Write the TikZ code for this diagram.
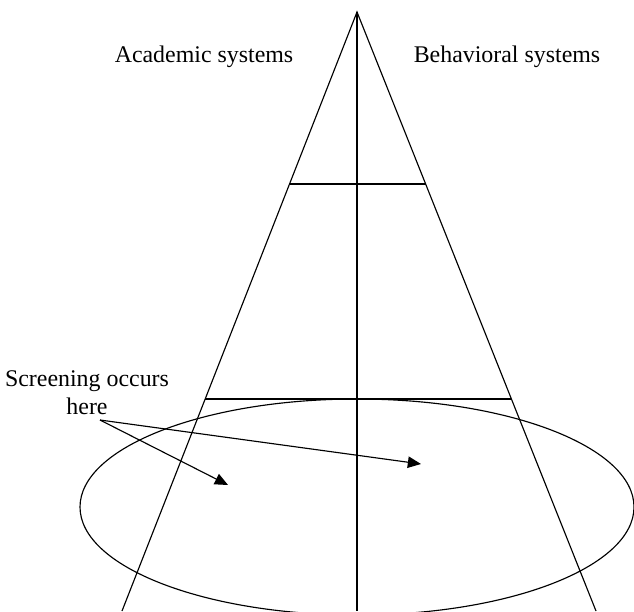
\documentclass[tikz,border=0pt]{standalone}
\usepackage{fontspec}
\setmainfont{Liberation Serif}
\usetikzlibrary{arrows.meta,calc}
\begin{document}
\begin{tikzpicture}[x = 0.02cm, y = -0.02cm,
    edge/.style = {line width=0.65pt},
    pointer/.style = {line width=0.65pt, -{Triangle[length=7.5pt, width=6.5pt]}},
    caption/.style = {font=\fontsize{13.6}{16}\selectfont, align=center, inner sep=0pt}]
  \useasboundingbox (0, 0) rectangle (634, 611);
  \clip (0, 0) rectangle (634, 611);
  % cone
  \coordinate (apex) at (357, 12);
  \coordinate (baseL) at (122, 611);
  \coordinate (baseR) at (596, 611);
  \coordinate (baseM) at (357, 611);
  \draw[edge] (baseL) -- (apex) -- (baseR);
  \draw[line width=0.9pt] (apex) -- (baseM);
  \draw[edge] ($(apex)!0.2871!(baseL)$) -- ($(apex)!0.2871!(baseR)$);
  \draw[edge] ($(apex)!0.6461!(baseL)$) -- ($(apex)!0.6461!(baseR)$);
  % screening plane
  \draw[edge] (357, 507) ellipse [x radius=277, y radius=108];
  % labels
  \node[caption] (acad) at (204, 57) {Academic systems};
  \node[caption] (behav) at (507, 57) {Behavioral systems};
  \node[caption] (screen) at (87, 393) {Screening occurs\\here};
  \coordinate (from) at (100, 420);
  \coordinate (toL) at (228, 485);
  \coordinate (toR) at (421, 464);
  \draw[pointer] (from) -- (toL);
  \draw[pointer] (from) -- (toR);
\end{tikzpicture}
\end{document}
